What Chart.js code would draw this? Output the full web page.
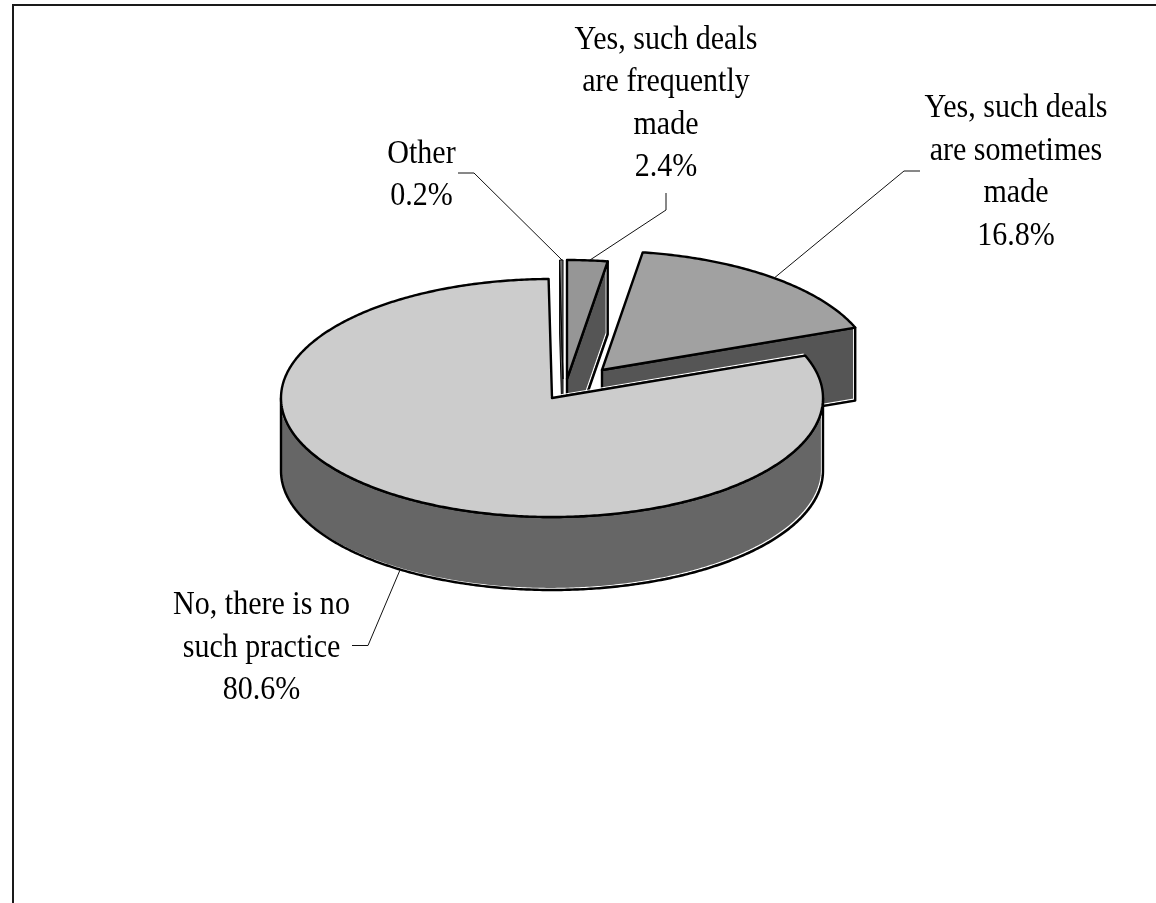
<!DOCTYPE html>
<html>
<head>
<meta charset="utf-8">
<style>html,body{margin:0;padding:0;background:#fff}canvas{display:block}</style>
<script src="https://cdn.jsdelivr.net/npm/chart.js@4"></script>
</head>
<body>
<canvas id="c" width="1156" height="903"></canvas>
<script>
const categories = ["Yes, such deals are frequently made","Yes, such deals are sometimes made","No, there is no such practice","Other"];
const values = [2.4, 16.8, 80.6, 0.2];
const topColors = ["#969696","#a1a1a1","#cccccc","#707070"];
const sideColors = ["#555555","#555555","#666666","#555555"];
const labelLines = [
  ["Yes, such deals","are frequently","made","2.4%"],
  ["Yes, such deals","are sometimes","made","16.8%"],
  ["No, there is no","such practice","80.6%"],
  ["Other","0.2%"]
];
const labelAnchors = [[666,48.5],[1016,117],[261.5,614],[421.5,162.5]];
const leaders = [
  [[666,193],[666,210],[590,260]],
  [[920,171],[904,171],[773,279]],
  [[352,645.5],[368,645.5],[400,570]],
  [[458,173],[474,173],[562,260]]
];
const explode = [[15,-19],[50,-28],[0,0],[11,-19]];
const drawOrder = [1,0,3,2];
const SQUASH = 119/271, CENTER_Y = 398, DEPTH = 73, LINE_PITCH = 42.6, TEXT_SCALE_X = 0.91;

function outline(ctx, pts, color, width, close){
  ctx.beginPath();
  pts.forEach((p,i)=> i ? ctx.lineTo(p[0],p[1]) : ctx.moveTo(p[0],p[1]));
  if(close) ctx.closePath();
  ctx.strokeStyle = color; ctx.lineWidth = width; ctx.stroke();
}
function arcPts(a, from, to, yShift){
  const n = Math.max(2, Math.ceil(Math.abs(to-from)/0.01)), pts = [];
  for(let i=0;i<=n;i++){
    const t = from+(to-from)*i/n;
    pts.push([a.x+a.outerRadius*Math.cos(t), CENTER_Y+SQUASH*a.outerRadius*Math.sin(t)+yShift]);
  }
  return pts;
}
function wall(ctx, pts, lw, halo){
  const poly = pts.concat(pts.slice().reverse().map(p=>[p[0],p[1]+DEPTH]));
  ctx.beginPath();
  poly.forEach((p,i)=> i ? ctx.lineTo(p[0],p[1]) : ctx.moveTo(p[0],p[1]));
  ctx.closePath(); ctx.fill();
  if(halo){ ctx.save(); ctx.translate(-1.5,-1.5); outline(ctx, poly, "#ffffff", 1.2, true); ctx.restore(); }
  outline(ctx, poly, "#000000", lw, true);
}
const pie3d = {
  id:"pie3d",
  beforeDraw(chart){
    const ctx = chart.ctx;
    ctx.save();
    ctx.fillStyle="#fff"; ctx.fillRect(0,0,chart.width,chart.height);
    outline(ctx, [[13,903],[13,5],[1156,5]], "#1a1a1a", 2, false);
    ctx.restore();
  },
  beforeDatasetsDraw(chart){
    const ctx = chart.ctx, arcs = chart.getDatasetMeta(0).data;
    ctx.save();
    ctx.lineJoin = "round";
    drawOrder.forEach(i=>{
      const a = arcs[i], s = a.startAngle, e = a.endAngle;
      const apex = [a.x, CENTER_Y];
      const thin = values[i] < 1, lw = thin ? 1 : 2.4;
      ctx.save();
      ctx.translate(explode[i][0], explode[i][1]);
      ctx.fillStyle = sideColors[i];
      // cut faces that look toward the viewer
      if(Math.cos(s) < -1e-6) wall(ctx, [apex, arcPts(a,s,s,0)[0]], lw, !thin);
      if(Math.cos(e) > 1e-6) wall(ctx, [apex, arcPts(a,e,e,0)[0]], lw, !thin);
      // outer rim on the near half of the ellipse
      const lo = Math.max(s,0), hi = Math.min(e,Math.PI);
      if(hi > lo) wall(ctx, arcPts(a,lo,hi,0), lw, !thin);
      // top face, through the library's own arc element
      ctx.save();
      ctx.translate(0, CENTER_Y); ctx.scale(1, SQUASH); ctx.translate(0, -a.y);
      a.draw(ctx);
      ctx.restore();
      const rim = arcPts(a,s,e,0);
      if(!thin){ ctx.save(); ctx.translate(-1.5,-1.5); outline(ctx,[apex,rim[0]],"#ffffff",1.2,false); ctx.restore(); }
      outline(ctx, [apex].concat(rim), "#000000", lw, true);
      ctx.restore();
    });
    ctx.restore();
    return false;
  },
  afterDraw(chart){
    const ctx = chart.ctx;
    ctx.save();
    leaders.forEach(l=>outline(ctx,l,"#111111",1,false));
    ctx.fillStyle="#000";
    ctx.font="33px 'Liberation Serif'";
    ctx.textAlign="center"; ctx.textBaseline="alphabetic";
    labelLines.forEach((lines,i)=>lines.forEach((t,j)=>{
      ctx.save();
      ctx.translate(labelAnchors[i][0],labelAnchors[i][1]+j*LINE_PITCH);
      ctx.scale(TEXT_SCALE_X,1);
      ctx.fillText(t,0,0);
      ctx.restore();
    }));
    ctx.restore();
  }
};
new Chart(document.getElementById("c"),{
  type:"pie",
  plugins:[pie3d],
  data:{labels:categories,datasets:[{data:values,backgroundColor:topColors,borderWidth:0}]},
  options:{
    responsive:false,animation:false,
    layout:{padding:{left:281,right:333,top:0,bottom:361}},
    plugins:{legend:{display:false},tooltip:{enabled:false}}
  }
});
</script>
</body>
</html>
